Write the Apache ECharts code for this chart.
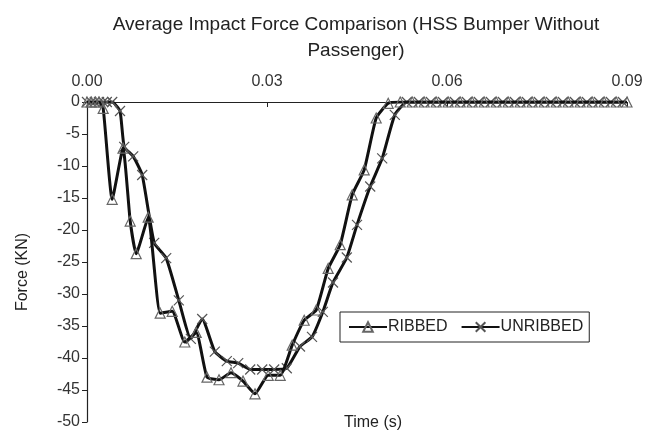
<!DOCTYPE html>
<html>
<head>
<meta charset="utf-8">
<script src="https://cdn.jsdelivr.net/npm/echarts@6/dist/echarts.min.js"></script>
<style>
  html, body { margin: 0; padding: 0; background: #fff; }
  #chart { width: 646px; height: 432px; }
</style>
</head>
<body>
<div id="chart"></div>
<script>
// Time samples (s) and average impact force (KN) for each bumper
const ribbedTime = [0, 0.0007, 0.0014, 0.0020, 0.0027, 0.0042, 0.0060, 0.0072, 0.0082, 0.0102,
  0.0122, 0.0142, 0.0163, 0.0182, 0.0200, 0.0220, 0.0240, 0.0260, 0.0280, 0.0302,
  0.0322, 0.0342, 0.0362, 0.0382, 0.0402, 0.0422, 0.0442, 0.0462, 0.0482, 0.0502,
  0.0522, 0.0542, 0.0562, 0.0582, 0.0602, 0.0622, 0.0642, 0.0662, 0.0682, 0.0702,
  0.0722, 0.0742, 0.0762, 0.0782, 0.0802, 0.0822, 0.0842, 0.0862, 0.0882, 0.0900];
const ribbedForce = [0, 0, 0, 0, -1, -15.2, -7.2, -18.6, -23.7, -18,
  -33, -32.7, -37.5, -36, -43, -43.4, -42.3, -43.6, -45.6, -42.7,
  -42.7, -38, -34.1, -32.5, -26, -22.3, -14.5, -10.6, -2.5, -0.2,
  0, 0, 0, 0, 0, 0, 0, 0, 0, 0,
  0, 0, 0, 0, 0, 0, 0, 0, 0, 0];

const unribbedTime = [0, 0.0007, 0.0013, 0.0020, 0.0027, 0.0033, 0.0042, 0.0055, 0.0062, 0.0077,
  0.0092, 0.0112, 0.0132, 0.0153, 0.0173, 0.0192, 0.0213, 0.0233, 0.0252, 0.0272,
  0.0292, 0.0312, 0.0333, 0.0355, 0.0375, 0.0393, 0.0410, 0.0433, 0.0450, 0.0472,
  0.0492, 0.0513, 0.0533, 0.0553, 0.0573, 0.0593, 0.0613, 0.0633, 0.0653, 0.0673,
  0.0693, 0.0713, 0.0733, 0.0753, 0.0773, 0.0793, 0.0813, 0.0833, 0.0853, 0.0873, 0.0893];
const unribbedForce = [0, 0, 0, 0, 0, 0, 0, -1.4, -7, -8.5,
  -11.4, -22, -24.4, -31, -37, -33.9, -39, -40.5, -40.8, -41.8,
  -41.8, -41.8, -41.6, -38.2, -36.7, -32.8, -28.2, -24.3, -19.2, -13.2,
  -8.8, -2, 0, 0, 0, 0, 0, 0, 0, 0,
  0, 0, 0, 0, 0, 0, 0, 0, 0, 0, 0];

const timeTicks = [0, 0.03, 0.06, 0.09];
const forceTicks = [0, -5, -10, -15, -20, -25, -30, -35, -40, -45, -50];

const FONT = '"Liberation Sans", Arial, sans-serif';
const pairs = (xs, ys) => xs.map((x, i) => [x, ys[i]]);

const chart = echarts.init(document.getElementById('chart'), null, { renderer: 'canvas' });

chart.setOption({
  animation: false,
  backgroundColor: '#fff',
  textStyle: { fontFamily: FONT },
  title: [
    {
      text: 'Average Impact Force Comparison (HSS Bumper Without\nPassenger)',
      left: 351, top: 7, textAlign: 'center',
      textStyle: { fontFamily: FONT, fontSize: 19, fontWeight: 'normal', color: '#222', lineHeight: 26 }
    },
    {
      text: 'Time (s)',
      left: 368, top: 410, textAlign: 'center',
      textStyle: { fontFamily: FONT, fontSize: 16, fontWeight: 'normal', color: '#222' }
    }
  ],
  grid: { left: 87, right: 19, top: 102, bottom: 10, containLabel: false },
  legend: {
    left: 340, top: 312,
    orient: 'horizontal',
    padding: [7, 6, 7, 8],
    itemGap: 13, itemWidth: 38, itemHeight: 12,
    borderColor: '#222', borderWidth: 1,
    textStyle: { fontFamily: FONT, fontSize: 16, color: '#222', padding: [0, 0, 0, -4] },
    data: ['RIBBED', 'UNRIBBED']
  },
  xAxis: {
    type: 'value', position: 'top',
    min: timeTicks[0], max: timeTicks[timeTicks.length - 1], interval: 0.03,
    axisLine: { show: true, lineStyle: { color: '#222', width: 1.2 } },
    axisTick: { show: true, inside: true, length: 5, lineStyle: { color: '#222' } },
    splitLine: { show: false },
    axisLabel: {
      fontFamily: FONT, fontSize: 16, color: '#333', margin: 12,
      formatter: v => v.toFixed(2)
    }
  },
  yAxis: {
    type: 'value',
    min: forceTicks[forceTicks.length - 1], max: forceTicks[0], interval: 5,
    name: 'Force (KN)', nameLocation: 'middle', nameGap: 56,
    nameTextStyle: { fontFamily: FONT, fontSize: 16, color: '#222', padding: [0, 20, 0, 0] },
    axisLine: { show: true, onZero: false, lineStyle: { color: '#222', width: 1.2 } },
    axisTick: { show: true, inside: false, length: 5, lineStyle: { color: '#222' } },
    splitLine: { show: false },
    axisLabel: { fontFamily: FONT, fontSize: 16, color: '#333', margin: 7 }
  },
  series: [
    {
      name: 'RIBBED', type: 'line', smooth: 0.15,
      data: pairs(ribbedTime, ribbedForce),
      symbol: 'triangle', symbolSize: 10, showSymbol: true,
      lineStyle: { color: '#111', width: 3 },
      itemStyle: { color: 'rgba(255,255,255,0)', borderColor: '#666', borderWidth: 1.2 },
      z: 3
    },
    {
      name: 'UNRIBBED', type: 'line', smooth: 0.15,
      data: pairs(unribbedTime, unribbedForce),
      symbol: 'path://M0,0L10,10M10,0L0,10', symbolSize: 10, showSymbol: true,
      lineStyle: { color: '#111', width: 3 },
      itemStyle: { color: 'rgba(255,255,255,0)', borderColor: '#555', borderWidth: 1.2 },
      z: 2
    }
  ]
});
</script>
</body>
</html>
